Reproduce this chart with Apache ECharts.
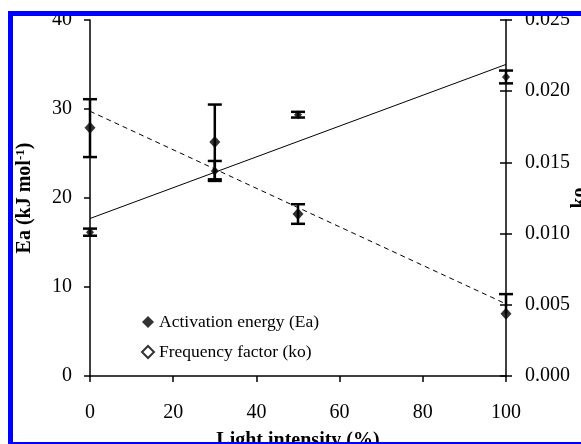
<!DOCTYPE html>
<html>
<head>
<meta charset="utf-8">
<script src="https://cdn.jsdelivr.net/npm/echarts@6/dist/echarts.min.js"></script>
<style>
html,body{margin:0;padding:0;background:#fff;}
#chart{width:581px;height:444px;}
</style>
</head>
<body>
<div id="chart"></div>
<script>
// ---- data ----
const lightIntensity = [0, 30, 50, 100];
const eaValues = [27.9, 26.3, 18.2, 7.0];            // kJ/mol (left axis)
const eaErrPlus = [3.2, 4.2, 1.1, 2.2];
const eaErrMinus = [3.3, 4.2, 1.1, 0];
const k0Values = [0.0101, 0.0144, 0.01835, 0.0210];  // right axis
const k0Err = [0.00025, 0.0007, 0.0002, 0.00045];
const trendX = [0, 100];
const eaTrend = [29.75, 8.1];
const k0Trend = [0.01106, 0.02188];
const eaName = 'Activation energy (Ea)';
const k0Name = 'Frequency factor (ko)';

const FONT = '"Liberation Serif", "Times New Roman", serif';

const pairs = (xs, ys) => xs.map((x, i) => [x, ys[i]]);
const errData = (xs, ys, plus, minus) => xs.map((x, i) => [x, ys[i], ys[i] - minus[i], ys[i] + plus[i]]);

function errRender(params, api) {
  const xv = api.value(0);
  const lo = api.coord([xv, api.value(2)]);
  const hi = api.coord([xv, api.value(3)]);
  const hw = 7;
  const style = { stroke: '#000', lineWidth: 2.5 };
  const children = [
    { type: 'line', shape: { x1: hi[0], y1: hi[1], x2: lo[0], y2: lo[1] }, style }
  ];
  children.push({ type: 'line', shape: { x1: hi[0] - hw, y1: hi[1], x2: hi[0] + hw, y2: hi[1] }, style });
  if (api.value(2) !== api.value(1)) {
    children.push({ type: 'line', shape: { x1: lo[0] - hw, y1: lo[1], x2: lo[0] + hw, y2: lo[1] }, style });
  }
  return { type: 'group', children };
}

const chart = echarts.init(document.getElementById('chart'), null, { renderer: 'canvas' });

const axisLabelStyle = { color: '#000', fontFamily: FONT, fontSize: 20 };

chart.setOption({
  animation: false,
  backgroundColor: '#fff',
  grid: { left: 90, right: 75, top: 20, bottom: 68, containLabel: false, outerBoundsMode: 'none' },
  legend: {
    orient: 'vertical',
    left: 136,
    top: 308,
    itemGap: 12,
    itemWidth: 12,
    itemHeight: 12,
    textStyle: { color: '#000', fontFamily: FONT, fontSize: 17.5 },
    data: [
      { name: eaName, icon: 'diamond', itemStyle: { color: '#000', borderWidth: 0 } },
      { name: k0Name, icon: 'diamond', itemStyle: { color: '#fff', borderColor: '#000', borderWidth: 2 } }
    ]
  },
  xAxis: {
    type: 'value',
    min: 0, max: 100, interval: 20,
    name: 'Light intensity (%)',
    nameLocation: 'middle',
    nameGap: 55,
    nameMoveOverlap: false,
    nameTextStyle: { color: '#000', fontFamily: FONT, fontSize: 20, fontWeight: 'bold' },
    axisLine: { lineStyle: { color: '#000', width: 1.5 } },
    axisTick: { show: true, inside: false, length: 6, lineStyle: { color: '#000', width: 1.5 } },
    axisLabel: Object.assign({ margin: 27 }, axisLabelStyle),
    splitLine: { show: false }
  },
  yAxis: [
    {
      type: 'value', position: 'left',
      min: 0, max: 40, interval: 10,
      name: '{b|Ea (kJ mol}{s|-1}{b|)}',
      nameLocation: 'middle',
      nameGap: 54,
      nameRotate: 90,
      nameMoveOverlap: false,
      nameTextStyle: {
        color: '#000', fontFamily: FONT, fontWeight: 'bold',
        rich: {
          b: { fontFamily: FONT, fontSize: 20, fontWeight: 'bold', color: '#000' },
          s: { fontFamily: FONT, fontSize: 13, fontWeight: 'bold', color: '#000', verticalAlign: 'top', padding: [0, 0, 9, 0] }
        }
      },
      axisLine: { show: true, lineStyle: { color: '#000', width: 1.5 } },
      axisTick: { show: true, inside: false, length: 6, lineStyle: { color: '#000', width: 1.5 } },
      axisLabel: Object.assign({ margin: 18 }, axisLabelStyle),
      splitLine: { show: false }
    },
    {
      type: 'value', position: 'right',
      min: 0, max: 0.025, interval: 0.005,
      name: 'ko',
      nameLocation: 'middle',
      nameGap: 64,
      nameRotate: 90,
      nameMoveOverlap: false,
      nameTextStyle: { color: '#000', fontFamily: FONT, fontSize: 20, fontWeight: 'bold' },
      axisLine: { show: true, lineStyle: { color: '#000', width: 1.5 } },
      axisTick: { show: true, inside: false, length: 6, lineStyle: { color: '#000', width: 1.5 } },
      axisLabel: Object.assign({ margin: 19, formatter: v => v.toFixed(3) }, axisLabelStyle),
      splitLine: { show: false }
    },
    {
      type: 'value', position: 'right',
      min: 0, max: 0.025, interval: 0.005,
      axisLine: { show: false },
      axisTick: { show: true, inside: true, length: 6, lineStyle: { color: '#000', width: 1.5 } },
      axisLabel: { show: false },
      splitLine: { show: false }
    }
  ],
  series: [
    {
      name: 'eaTrend', type: 'line', yAxisIndex: 0, data: pairs(trendX, eaTrend),
      symbol: 'none', silent: true, z: 2,
      lineStyle: { color: '#000', width: 1, type: [5, 4] }
    },
    {
      name: 'k0Trend', type: 'line', yAxisIndex: 1, data: pairs(trendX, k0Trend),
      symbol: 'none', silent: true, z: 2,
      lineStyle: { color: '#000', width: 1, type: 'solid' }
    },
    {
      name: 'eaErr', type: 'custom', yAxisIndex: 0, z: 3,
      data: errData(lightIntensity, eaValues, eaErrPlus, eaErrMinus),
      encode: { x: 0, y: [2, 3] },
      renderItem: errRender
    },
    {
      name: 'k0Err', type: 'custom', yAxisIndex: 1, z: 3,
      data: errData(lightIntensity, k0Values, k0Err, k0Err),
      encode: { x: 0, y: [2, 3] },
      renderItem: errRender
    },
    {
      name: eaName, type: 'scatter', yAxisIndex: 0, z: 4,
      data: pairs(lightIntensity, eaValues),
      symbol: 'diamond', symbolSize: [11, 12],
      itemStyle: { color: '#000' }
    },
    {
      name: k0Name, type: 'scatter', yAxisIndex: 1, z: 4,
      data: pairs(lightIntensity, k0Values),
      symbol: 'diamond', symbolSize: [8, 9],
      itemStyle: { color: '#000' }
    }
  ],
  graphic: [
    { type: 'rect', z: 100, silent: true, shape: { x: 8, y: 11, width: 573, height: 5 }, style: { fill: '#0000ff' } },
    { type: 'rect', z: 100, silent: true, shape: { x: 8, y: 11, width: 5, height: 433 }, style: { fill: '#0000ff' } },
    { type: 'rect', z: 100, silent: true, shape: { x: 8, y: 442, width: 573, height: 2 }, style: { fill: '#0000ff' } }
  ]
});
</script>
</body>
</html>
